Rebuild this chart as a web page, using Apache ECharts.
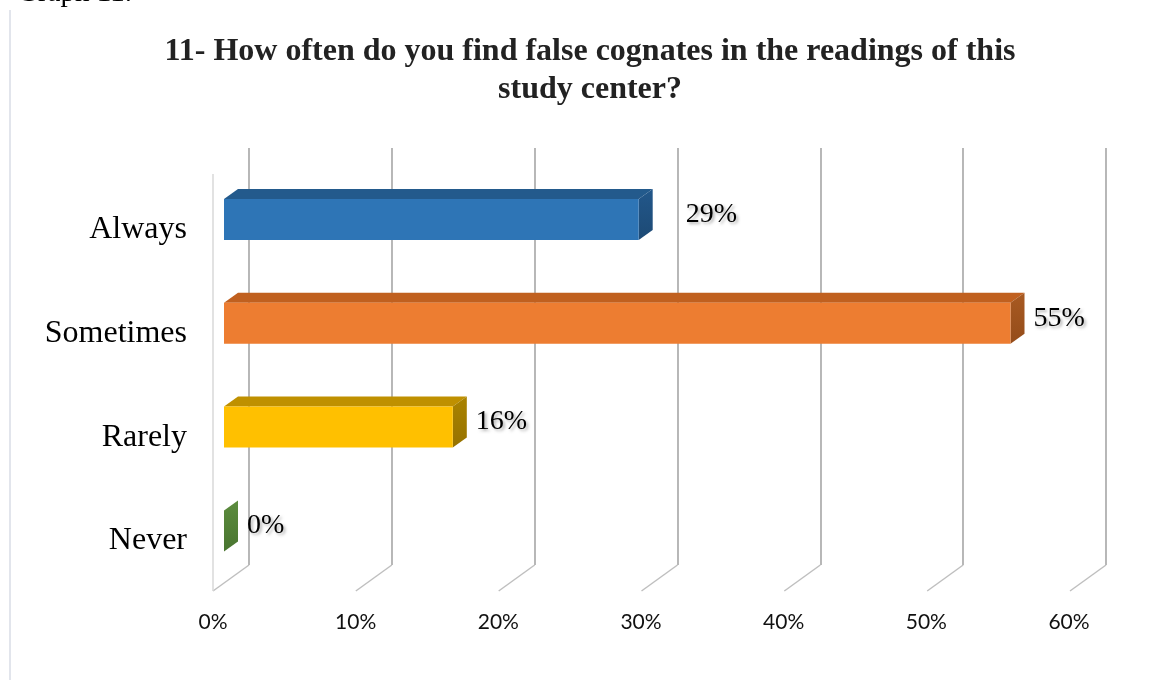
<!DOCTYPE html>
<html>
<head>
<meta charset="utf-8">
<script src="https://cdn.jsdelivr.net/npm/echarts@6/dist/echarts.min.js"></script>
<style>
  html, body { margin: 0; padding: 0; background: #ffffff; }
  #chart { width: 1168px; height: 680px; }
</style>
</head>
<body>
<div id="chart"></div>
<script>
// Survey answers (share of respondents, %)
const categories = ['Always', 'Sometimes', 'Rarely', 'Never'];
const shares = [29, 55, 16, 0];
const axisTicks = [0, 10, 20, 30, 40, 50, 60];
const titleLines = [
  '11- How often do you find false cognates in the readings of this',
  'study center?'
];
const captionText = 'Graph 11.';

// Face colours of each 3-D bar: front, top and right side (side shaded top -> bottom)
const palette = [
  { front: '#2E75B6', top: '#235A8C', side: ['#22578A', '#1D4A75'] },
  { front: '#ED7D31', top: '#C0601F', side: ['#A85A22', '#944C1A'] },
  { front: '#FFC000', top: '#BF9000', side: ['#AA8300', '#967200'] },
  { front: '#548235', top: '#466E2C', side: ['#5C8C3E', '#497530'] }
];

// Perspective offsets in pixels
const FLOOR_DEPTH = [-36, 26];   // back wall -> front edge of the floor
const BAR_DEPTH = [14, -10];     // front face -> back face of a bar
const BAR_FILL = 0.395;          // bar thickness as a share of the category band
const LABEL_GAP = 9;
const labelExtraGap = { Always: 24 };

const serif = '"Liberation Serif", "Times New Roman", serif';

const chart = echarts.init(document.getElementById('chart'), null, { renderer: 'canvas' });

function renderBar(params, api) {
  const idx = api.value(1);
  const v = api.value(0);
  const base = api.coord([0, idx]);
  const tip = api.coord([v, idx]);
  const h = api.size([0, 1])[1] * BAR_FILL;
  const x0 = base[0], x1 = tip[0];
  const yT = base[1] - h / 2, yB = base[1] + h / 2;
  const dx = BAR_DEPTH[0], dy = BAR_DEPTH[1];
  const c = palette[idx];
  const gap = LABEL_GAP + (labelExtraGap[categories[idx]] || 0);
  return {
    type: 'group',
    children: [
      {
        type: 'polygon',
        shape: { points: [[x0, yT], [x0 + dx, yT + dy], [x1 + dx, yT + dy], [x1, yT]] },
        style: { fill: c.top }
      },
      {
        type: 'polygon',
        shape: { points: [[x1, yT], [x1 + dx, yT + dy], [x1 + dx, yB + dy], [x1, yB]] },
        style: {
          fill: new echarts.graphic.LinearGradient(0, 0, 0, 1, [
            { offset: 0, color: c.side[0] },
            { offset: 1, color: c.side[1] }
          ])
        }
      },
      {
        type: 'rect',
        shape: { x: x0, y: yT, width: Math.max(0, x1 - x0), height: h },
        style: { fill: c.front }
      },
      {
        type: 'text',
        style: {
          x: x1 + dx + gap,
          y: base[1] - 5,
          text: v + '%',
          fontFamily: serif,
          fontSize: 28,
          fill: '#000000',
          verticalAlign: 'middle',
          align: 'left',
          textShadowColor: 'rgba(0,0,0,0.3)',
          textShadowBlur: 3,
          textShadowOffsetX: 2,
          textShadowOffsetY: 2
        }
      }
    ]
  };
}

function renderFloor(params, api) {
  const v = api.value(0);
  const back = api.coord([v, 0]);
  const children = [{
    type: 'line',
    shape: { x1: back[0], y1: back[1], x2: back[0] + FLOOR_DEPTH[0], y2: back[1] + FLOOR_DEPTH[1] },
    style: { stroke: '#bfbfbf', lineWidth: 1.5 }
  }];
  if (v === 0) {
    // left wall edge
    const top = api.coord([0, 1]);
    children.push({
      type: 'line',
      shape: {
        x1: top[0] + FLOOR_DEPTH[0], y1: top[1] + FLOOR_DEPTH[1],
        x2: back[0] + FLOOR_DEPTH[0], y2: back[1] + FLOOR_DEPTH[1]
      },
      style: { stroke: '#d9d9d9', lineWidth: 1.5 }
    });
  }
  return { type: 'group', children: children };
}

const option = {
  backgroundColor: '#ffffff',
  animation: false,
  grid: [
    // plane through the bars
    { left: 224, right: 86, top: 167.6, bottom: 97.2 },
    // back wall
    { left: 249, right: 62, top: 148, bottom: 115 },
    // front edge (axis labels)
    { left: 213, right: 99, top: 177.6, bottom: 87.2 }
  ],
  xAxis: [
    { gridIndex: 0, type: 'value', min: 0, max: 60, interval: 10, show: false },
    {
      gridIndex: 1, type: 'value', min: 0, max: 60, interval: 10,
      axisLine: { show: false }, axisTick: { show: false }, axisLabel: { show: false },
      splitLine: { show: true, lineStyle: { color: '#a6a6a6', width: 1.6 } }
    },
    {
      gridIndex: 2, type: 'value', min: 0, max: 60, interval: 10,
      axisLine: { show: false }, axisTick: { show: false }, splitLine: { show: false },
      axisLabel: {
        formatter: '{value}%', margin: 19,
        fontFamily: 'Lato, "Open Sans", sans-serif', fontSize: 21, color: '#111111'
      }
    }
  ],
  yAxis: [
    { gridIndex: 0, type: 'category', data: categories, inverse: true, show: false },
    { gridIndex: 1, type: 'value', min: 0, max: 1, show: false },
    {
      gridIndex: 2, type: 'category', data: categories, inverse: true,
      axisLine: { show: false }, axisTick: { show: false }, splitLine: { show: false },
      axisLabel: { margin: 26, fontFamily: serif, fontSize: 32, color: '#000000' }
    }
  ],
  series: [
    {
      type: 'custom',
      name: 'floor',
      xAxisIndex: 1, yAxisIndex: 1,
      data: axisTicks.map(t => [t]),
      encode: { x: 0 },
      renderItem: renderFloor,
      silent: true,
      z: 1
    },
    {
      type: 'custom',
      name: 'share',
      xAxisIndex: 0, yAxisIndex: 0,
      data: shares.map((v, i) => [v, i]),
      encode: { x: 0, y: 1 },
      renderItem: renderBar,
      z: 3
    }
  ],
  graphic: [
    {
      type: 'line',
      shape: { x1: 10, y1: 10, x2: 10, y2: 680 },
      style: { stroke: '#d9dde6', lineWidth: 1.5 }
    },
    {
      type: 'text',
      x: 17, y: 8,
      style: {
        text: captionText, fontFamily: serif, fontSize: 29, fill: '#000000',
        verticalAlign: 'bottom', align: 'left'
      }
    },
    {
      type: 'text',
      x: 590, y: 33,
      style: {
        text: titleLines.join('\n'),
        fontFamily: serif, fontSize: 32, fontWeight: 'bold', fill: '#222222',
        align: 'center', verticalAlign: 'top', lineHeight: 38
      }
    }
  ]
};

chart.setOption(option);
</script>
</body>
</html>
